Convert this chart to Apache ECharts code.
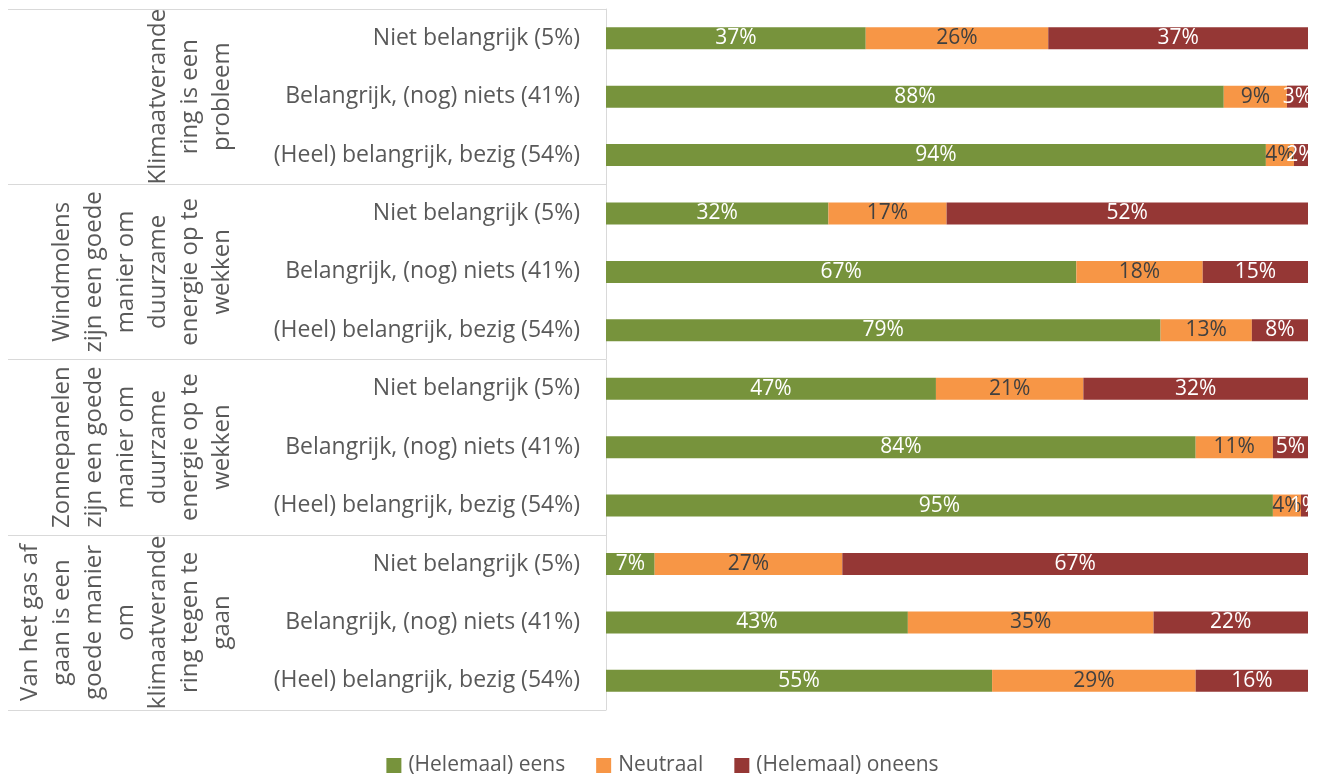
<!DOCTYPE html>
<html>
<head>
<meta charset="utf-8">
<script src="https://cdn.jsdelivr.net/npm/echarts@6/dist/echarts.min.js"></script>
<style>
  html, body { margin: 0; padding: 0; background: #fff; }
  #chart { width: 1325px; height: 774px; }
</style>
</head>
<body>
<div id="chart"></div>
<script>
  // stellingen (groepen) en subgroepen
  var groups = [
    'Klimaatverande\nring is een\nprobleem',
    'Windmolens\nzijn een goede\nmanier om\nduurzame\nenergie op te\nwekken',
    'Zonnepanelen\nzijn een goede\nmanier om\nduurzame\nenergie op te\nwekken',
    'Van het gas af\ngaan is een\ngoede manier\nom\nklimaatverande\nring tegen te\ngaan'
  ];
  var subgroups = ['Niet belangrijk (5%)', 'Belangrijk, (nog) niets (41%)', '(Heel) belangrijk, bezig (54%)'];
  var rows = [];
  groups.forEach(function () { rows = rows.concat(subgroups); });

  var seriesNames = ['(Helemaal) eens', 'Neutraal', '(Helemaal) oneens'];
  var eens    = [37, 88, 94, 32, 67, 79, 47, 84, 95, 7, 43, 55];
  var neutraal = [26, 9, 4, 17, 18, 13, 21, 11, 4, 27, 35, 29];
  var oneens  = [37, 3, 2, 52, 15, 8, 32, 5, 1, 67, 22, 16];

  var colors = ['#77933C', '#F79646', '#953735'];
  var labelColors = ['#ffffff', '#404040', '#ffffff'];
  var font = 'Open Sans';

  // 100% gestapeld: elke rij schalen naar totaal
  var raw = [eens, neutraal, oneens];
  var totals = eens.map(function (v, i) { return v + neutraal[i] + oneens[i]; });

  var series = raw.map(function (vals, s) {
    return {
      name: seriesNames[s],
      type: 'bar',
      stack: 'totaal',
      barWidth: 22,
      yAxisIndex: 0,
      itemStyle: { color: colors[s] },
      label: {
        show: true,
        position: 'inside',
        fontFamily: font,
        fontSize: 21,
        color: labelColors[s],
        formatter: function (p) { return vals[p.dataIndex] + '%'; }
      },
      data: vals.map(function (v, i) { return v / totals[i] * 100; })
    };
  });

  var chart = echarts.init(document.getElementById('chart'));
  chart.setOption({
    animation: false,
    textStyle: { fontFamily: font },
    grid: { left: 606, right: 17, top: 9, bottom: 64, containLabel: false, outerBoundsMode: 'none' },
    legend: {
      top: 750,
      left: 'center',
      icon: 'rect',
      itemWidth: 15,
      itemHeight: 15,
      itemGap: 31,
      textStyle: { fontFamily: font, fontSize: 21, color: '#595959', padding: [0, 0, 0, 2] },
      data: seriesNames
    },
    xAxis: {
      type: 'value', min: 0, max: 100, show: false
    },
    yAxis: [{
      type: 'category',
      inverse: true,
      data: rows,
      axisLine: { show: false },
      axisTick: { show: false },
      axisLabel: { interval: 0, margin: 26, fontFamily: font, fontSize: 23, color: '#595959' }
    }, {
      type: 'category',
      inverse: true,
      position: 'left',
      data: groups,
      axisLine: { show: true, lineStyle: { color: '#d9d9d9', width: 1 } },
      axisTick: { show: true, length: 598, lineStyle: { color: '#d9d9d9', width: 1 } },
      axisLabel: {
        interval: 0, rotate: 90, margin: 368,
        fontFamily: font, fontSize: 24, lineHeight: 32, color: '#595959'
      }
    }],
    series: series
  });
</script>
</body>
</html>
